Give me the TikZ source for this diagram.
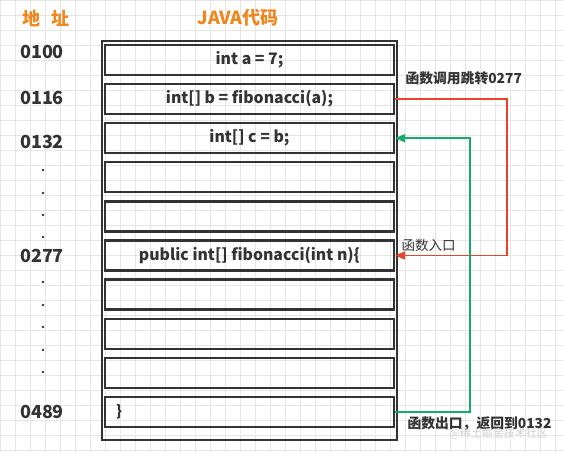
\documentclass[tikz,border=0pt]{standalone}
\usepackage{fontspec}
\setmainfont{Noto Sans CJK SC}
\usetikzlibrary{arrows.meta}
\definecolor{hdr}{RGB}{240,135,30}
\definecolor{txt}{RGB}{51,51,51}
\definecolor{redl}{RGB}{232,68,44}
\definecolor{greenl}{RGB}{22,170,106}
\definecolor{gridc}{RGB}{230,230,230}
\begin{document}
\begin{tikzpicture}[x=1pt,y=-1pt,
  codebox/.style={draw=txt,line width=2.3pt,minimum width=289pt,minimum height=30pt,inner sep=0pt,font=\bfseries\fontsize{15.8}{18}\selectfont,text=txt},
  addr/.style={font=\bfseries\fontsize{18}{20}\selectfont,text=txt,anchor=center},
  header/.style={font=\bfseries\fontsize{18}{20}\selectfont,text=hdr},
  note/.style={font=\bfseries\fontsize{13.8}{16}\selectfont,text=txt,anchor=west},
  dotm/.style={fill=txt,circle,inner sep=0pt,minimum size=2.8pt},
  arr/.style={line width=1.8pt,-{Triangle[length=10pt,width=8pt]}}]
\useasboundingbox (0,0) rectangle (564,452);
\fill[white] (0,0) rectangle (564,452);
\draw[gridc,line width=0.6pt,step=15pt] (0,0) grid (564,452);
% headers
\node[header] (h1) at (46,18) {地\hspace{0.6em}址};
\node[header] (h2) at (238,18) {JAVA代码};
% outer frame
\node[draw=txt,line width=2.3pt,minimum width=295pt,minimum height=399pt,inner sep=0pt] (frame) at (249.5,240.5) {};
% boxes
\node[codebox] (b1) at (249.5,60) {int a = 7;};
\node[codebox] (b2) at (249.5,99.1) {int[] b = fibonacci(a);};
\node[codebox] (b3) at (249.5,138.2) {int[] c = b;};
\node[codebox] (b4) at (249.5,177.3) {};
\node[codebox] (b5) at (249.5,216.4) {};
\node[codebox] (b6) at (249.5,255.5) {public int[] fibonacci(int n)\{};
\node[codebox] (b7) at (249.5,294.6) {};
\node[codebox] (b8) at (249.5,333.7) {};
\node[codebox] (b9) at (249.5,372.8) {};
\node[codebox] (b10) at (249.5,411.9) {};
\node[font=\bfseries\fontsize{15}{17}\selectfont,text=txt] (brace) at (119,411.9) {\}};
% addresses
\node[addr] (a1) at (42,52) {0100};
\node[addr] (a2) at (42,98) {0116};
\node[addr] (a3) at (42,142) {0132};
\node[addr] (a4) at (42,256) {0277};
\node[addr] (a5) at (42,412) {0489};
\foreach \y [count=\i] in {170,193,215,237,282,305,327,350,372}
  \node[dotm] (d\i) at (43,\y) {};
% connectors
\coordinate (rc) at (507,99.1);
\coordinate (gc) at (470,411.9);
\draw[redl,arr] (b2.east) -- (rc) |- (b6.east);
\draw[greenl,arr] (b10.east) -- (gc) |- (b3.east);
% notes
\node[note] (n1) at (402,78) {函数调用跳转0277};
\node[note,font=\fontsize{13.5}{16}\selectfont] (n2) at (398,245) {函数入口};
\node[note] (n3) at (404,424) {函数出口，返回到0132};
\node[anchor=west,text=gray!35,font=\fontsize{11}{13}\selectfont] (wm) at (446,434) {@稀土掘金技术社区};
\end{tikzpicture}
\end{document}
